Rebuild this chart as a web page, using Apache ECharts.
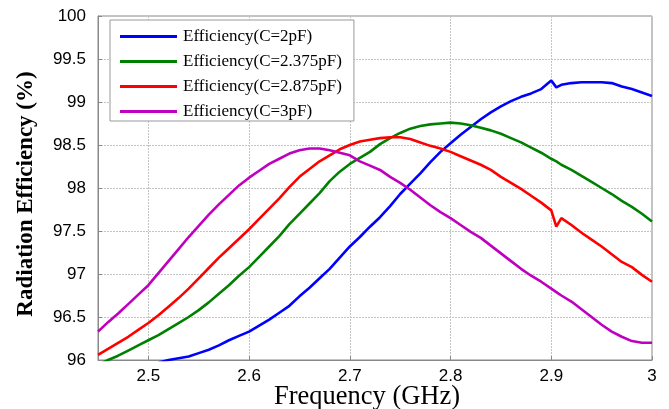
<!DOCTYPE html>
<html>
<head>
<meta charset="utf-8">
<script src="https://cdn.jsdelivr.net/npm/echarts@6/dist/echarts.min.js"></script>
<style>
  html, body { margin: 0; padding: 0; background: #fff; }
  #chart { width: 669px; height: 409px; }
</style>
</head>
<body>
<div id="chart"></div>
<script>
// frequency points (GHz)
const freq = [2.45, 2.46, 2.47, 2.48, 2.49, 2.50, 2.51, 2.52, 2.53, 2.54, 2.55, 2.56, 2.57, 2.58, 2.59,
  2.60, 2.61, 2.62, 2.63, 2.64, 2.65, 2.66, 2.67, 2.68, 2.69, 2.70, 2.71, 2.72, 2.73, 2.74,
  2.75, 2.76, 2.77, 2.78, 2.79, 2.80, 2.81, 2.82, 2.83, 2.84, 2.85, 2.86, 2.87, 2.88, 2.89,
  2.90, 2.905, 2.91, 2.92, 2.93, 2.94, 2.95, 2.96, 2.97, 2.98, 2.99, 3.00];

// radiation efficiency (%)
const eff2pF = [null, null, null, null, null, null, 95.97, 96.00, 96.02, 96.04, 96.08, 96.12, 96.17, 96.23, 96.28,
  96.33, 96.40, 96.47, 96.55, 96.63, 96.74, 96.84, 96.95, 97.06, 97.19, 97.32, 97.43, 97.55, 97.66, 97.79,
  97.93, 98.05, 98.17, 98.30, 98.42, 98.52, 98.62, 98.71, 98.80, 98.88, 98.95, 99.01, 99.06, 99.10, 99.15,
  99.25, 99.17, 99.20, 99.22, 99.23, 99.23, 99.23, 99.22, 99.18, 99.15, 99.11, 99.07];
const eff2375pF = [95.94, 96.00, 96.05, 96.11, 96.17, 96.23, 96.29, 96.36, 96.43, 96.50, 96.58, 96.67, 96.77, 96.87, 96.98,
  97.08, 97.20, 97.32, 97.44, 97.58, 97.70, 97.82, 97.94, 98.08, 98.19, 98.28, 98.35, 98.42, 98.51, 98.58,
  98.64, 98.69, 98.72, 98.74, 98.75, 98.76, 98.75, 98.73, 98.70, 98.67, 98.63, 98.58, 98.53, 98.47, 98.41,
  98.34, 98.31, 98.27, 98.21, 98.14, 98.07, 98.00, 97.93, 97.85, 97.78, 97.70, 97.61];
const eff2875pF = [96.06, 96.13, 96.20, 96.27, 96.35, 96.43, 96.52, 96.62, 96.72, 96.83, 96.95, 97.07, 97.19, 97.30, 97.41,
  97.52, 97.64, 97.76, 97.88, 98.01, 98.13, 98.22, 98.31, 98.38, 98.45, 98.50, 98.54, 98.56, 98.58, 98.59,
  98.59, 98.57, 98.53, 98.49, 98.46, 98.42, 98.37, 98.32, 98.27, 98.21, 98.13, 98.06, 97.99, 97.91, 97.83,
  97.74, 97.55, 97.65, 97.57, 97.48, 97.40, 97.32, 97.23, 97.14, 97.08, 96.99, 96.91];
const eff3pF = [96.33, 96.44, 96.54, 96.65, 96.76, 96.87, 97.01, 97.15, 97.29, 97.43, 97.56, 97.69, 97.81, 97.92, 98.03,
  98.12, 98.20, 98.28, 98.34, 98.40, 98.44, 98.46, 98.46, 98.44, 98.41, 98.38, 98.31, 98.26, 98.21, 98.13,
  98.06, 97.98, 97.89, 97.80, 97.72, 97.65, 97.57, 97.49, 97.42, 97.33, 97.24, 97.15, 97.06, 96.98, 96.91,
  96.83, 96.79, 96.75, 96.68, 96.59, 96.50, 96.41, 96.33, 96.27, 96.22, 96.20, 96.20];

const seriesNames = ['Efficiency(C=2pF)', 'Efficiency(C=2.375pF)', 'Efficiency(C=2.875pF)', 'Efficiency(C=3pF)'];
const seriesColors = ['#0000ff', '#008000', '#ff0000', '#bf00bf'];
const xTicks = [2.5, 2.6, 2.7, 2.8, 2.9, 3];

const chart = echarts.init(document.getElementById('chart'));

const pairs = vals => freq.map((f, i) => [f, vals[i]]);
const allData = [eff2pF, eff2375pF, eff2875pF, eff3pF];

const options = {
  animation: false,
  grid: {
    left: 98, right: 17, top: 16, bottom: 49,
    outerBoundsMode: 'none',
    containLabel: false,
    show: true, borderColor: '#888', borderWidth: 1
  },
  legend: {
    orient: 'vertical',
    left: 110, top: 20,
    padding: [8, 12, 1, 10],
    itemGap: 8,
    itemWidth: 57,
    itemHeight: 3,
    icon: 'rect',
    backgroundColor: '#fff',
    borderColor: '#999',
    borderWidth: 1,
    textStyle: { fontFamily: 'Liberation Serif', fontSize: 17, lineHeight: 16, color: '#000', padding: [0, 0, 0, 1] },
    data: seriesNames
  },
  xAxis: {
    type: 'value',
    min: 2.45, max: 3,
    name: 'Frequency (GHz)',
    nameLocation: 'middle',
    nameGap: 24,
    nameMoveOverlap: false,
    nameTextStyle: { fontFamily: 'Liberation Serif', fontSize: 26.5, color: '#000', padding: [0, 16, 0, 0] },
    axisLine: { show: true, lineStyle: { color: '#888' } },
    axisTick: { show: true, inside: true, length: 4, customValues: xTicks, lineStyle: { color: '#888' } },
    axisLabel: { customValues: xTicks, fontFamily: 'Liberation Sans', fontSize: 17, color: '#000', margin: 8 },
    splitLine: { show: true, lineStyle: { color: '#c4c4c4', type: [2, 1] } }
  },
  yAxis: {
    type: 'value',
    min: 96, max: 100, interval: 0.5,
    name: 'Radiation Efficiency (%)',
    nameLocation: 'middle',
    nameGap: 60,
    nameMoveOverlap: false,
    nameTextStyle: { fontFamily: 'Liberation Serif', fontSize: 23, fontWeight: 'bold', color: '#000', padding: [0, 12, 0, 0] },
    axisLine: { show: true, lineStyle: { color: '#888' } },
    axisTick: { show: true, inside: true, length: 4, lineStyle: { color: '#888' } },
    axisLabel: { fontFamily: 'Liberation Sans', fontSize: 17, color: '#000', margin: 12 },
    splitLine: { show: true, lineStyle: { color: '#c4c4c4', type: [2, 1] } }
  },
  series: seriesNames.map((name, k) => ({
    name: name,
    type: 'line',
    data: pairs(allData[k]),
    symbol: 'none',
    smooth: false,
    clip: true,
    connectNulls: false,
    color: seriesColors[k],
    lineStyle: { width: 2.6, color: seriesColors[k] }
  }))
};

chart.setOption(options);
</script>
</body>
</html>
